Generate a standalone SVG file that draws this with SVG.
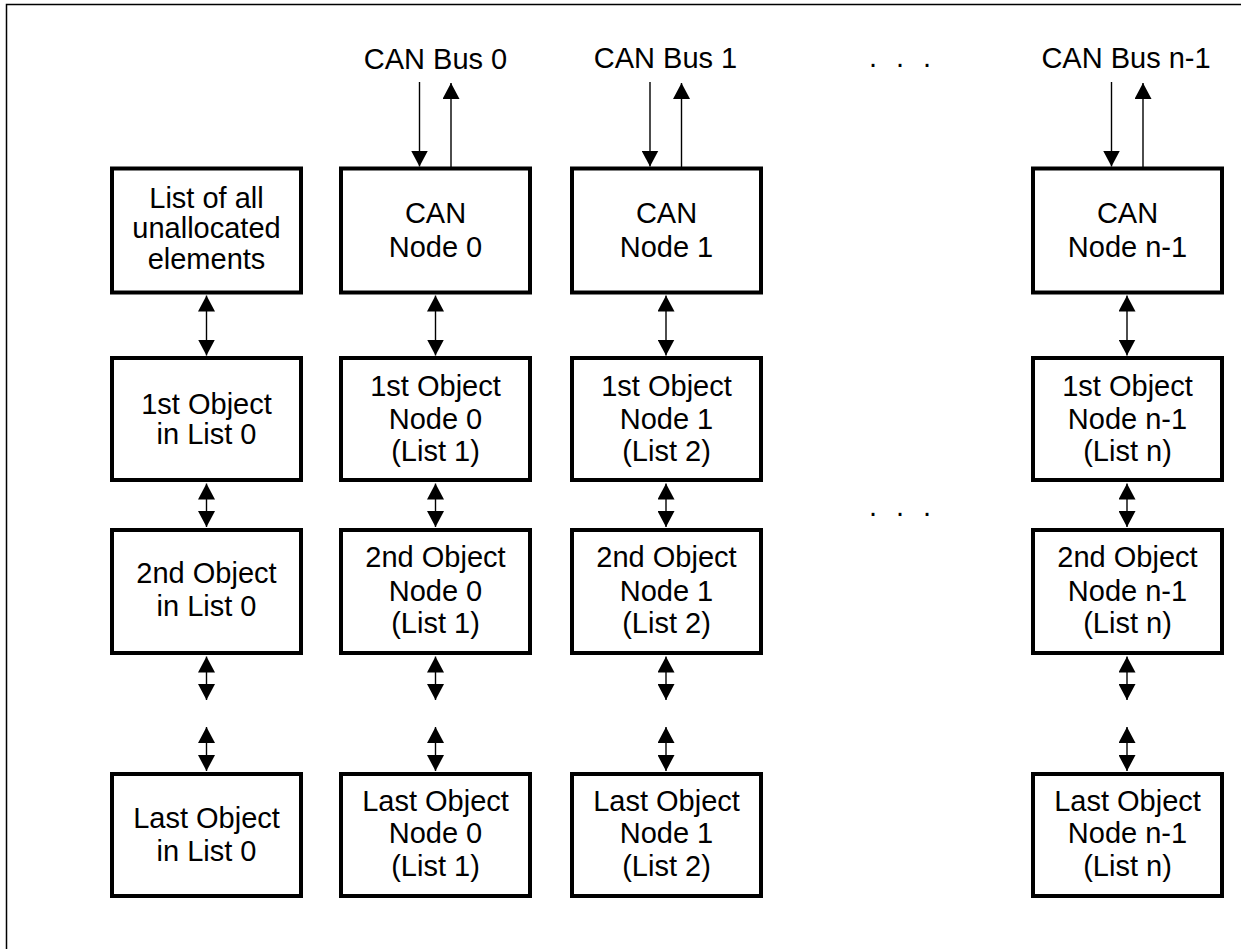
<svg xmlns="http://www.w3.org/2000/svg" width="1241" height="949" viewBox="0 0 1241 949">
<style>
.box{fill:#fff;stroke:#000;stroke-width:4}
.t{font-family:"Liberation Sans",Arial,sans-serif;font-size:29px;fill:#000;text-anchor:middle}
.c{stroke:#000;stroke-width:1.4;fill:none}
.bi{marker-start:url(#ah);marker-end:url(#ah)}
.one{marker-end:url(#ah)}
</style>
<defs>
<marker id="ah" markerUnits="userSpaceOnUse" markerWidth="16" markerHeight="17" refX="16" refY="8.5" orient="auto-start-reverse" viewBox="0 0 16 17">
<path d="M0,0 L16,8.5 L0,17 z" fill="#000"/>
</marker>
</defs>
<rect width="1241" height="949" fill="#fff"/>
<path d="M6.5,949 V4.5 H1241" fill="none" stroke="#000" stroke-width="1.5"/>

<g id="bus-labels">
<text class="t" x="435.5" y="69">CAN Bus 0</text>
<text class="t" x="665.5" y="68">CAN Bus 1</text>
<text class="t" x="1126" y="68">CAN Bus n-1</text>
<text class="t" style="text-anchor:start" x="869 896 923" y="67">...</text>
<text class="t" style="text-anchor:start" x="869 896 923" y="516">...</text>
</g>

<g id="connectors">
<line class="c one" x1="419.5" y1="82" x2="419.5" y2="166.5"/>
<line class="c one" x1="451" y1="167" x2="451" y2="83"/>
<line class="c one" x1="650" y1="82" x2="650" y2="166.5"/>
<line class="c one" x1="681.5" y1="167" x2="681.5" y2="83"/>
<line class="c one" x1="1111.5" y1="82" x2="1111.5" y2="166.5"/>
<line class="c one" x1="1143" y1="167" x2="1143" y2="83"/>

<line class="c bi" x1="206.5" y1="295.5" x2="206.5" y2="355.5"/>
<line class="c bi" x1="435.5" y1="295.5" x2="435.5" y2="355.5"/>
<line class="c bi" x1="666" y1="295.5" x2="666" y2="355.5"/>
<line class="c bi" x1="1127" y1="295.5" x2="1127" y2="355.5"/>

<line class="c bi" x1="206.5" y1="483.5" x2="206.5" y2="527"/>
<line class="c bi" x1="435.5" y1="483.5" x2="435.5" y2="527"/>
<line class="c bi" x1="666" y1="483.5" x2="666" y2="527"/>
<line class="c bi" x1="1127" y1="483.5" x2="1127" y2="527"/>

<line class="c bi" x1="206.5" y1="656.5" x2="206.5" y2="700"/>
<line class="c bi" x1="435.5" y1="656.5" x2="435.5" y2="700"/>
<line class="c bi" x1="666" y1="656.5" x2="666" y2="700"/>
<line class="c bi" x1="1127" y1="656.5" x2="1127" y2="700"/>

<line class="c bi" x1="206.5" y1="727" x2="206.5" y2="771"/>
<line class="c bi" x1="435.5" y1="727" x2="435.5" y2="771"/>
<line class="c bi" x1="666" y1="727" x2="666" y2="771"/>
<line class="c bi" x1="1127" y1="727" x2="1127" y2="771"/>
</g>

<g id="unallocated">
<rect class="box" x="112" y="168.5" width="189" height="124"/>
<text class="t" x="206.5" y="208">List of all</text>
<text class="t" x="206.5" y="238">unallocated</text>
<text class="t" x="206.5" y="269">elements</text>
</g>
<g id="obj1-list0">
<rect class="box" x="112" y="358" width="189" height="122"/>
<text class="t" x="206.5" y="414">1st Object</text>
<text class="t" x="206.5" y="444">in List 0</text>
</g>
<g id="obj2-list0">
<rect class="box" x="112" y="530" width="189" height="123"/>
<text class="t" x="206.5" y="583">2nd Object</text>
<text class="t" x="206.5" y="616">in List 0</text>
</g>
<g id="last-list0">
<rect class="box" x="112" y="774" width="189" height="122"/>
<text class="t" x="206.5" y="828">Last Object</text>
<text class="t" x="206.5" y="861">in List 0</text>
</g>

<g id="can-node0">
<rect class="box" x="341" y="168.5" width="189" height="124"/>
<text class="t" x="435.5" y="223">CAN</text>
<text class="t" x="435.5" y="257">Node 0</text>
</g>
<g id="obj1-node0">
<rect class="box" x="341" y="358" width="189" height="122"/>
<text class="t" x="435.5" y="396">1st Object</text>
<text class="t" x="435.5" y="428.5">Node 0</text>
<text class="t" x="435.5" y="460.5">(List 1)</text>
</g>
<g id="obj2-node0">
<rect class="box" x="341" y="530" width="189" height="123"/>
<text class="t" x="435.5" y="566.5">2nd Object</text>
<text class="t" x="435.5" y="600.5">Node 0</text>
<text class="t" x="435.5" y="632.5">(List 1)</text>
</g>
<g id="last-node0">
<rect class="box" x="341" y="774" width="189" height="122"/>
<text class="t" x="435.5" y="811">Last Object</text>
<text class="t" x="435.5" y="843">Node 0</text>
<text class="t" x="435.5" y="876">(List 1)</text>
</g>

<g id="can-node1">
<rect class="box" x="572" y="168.5" width="189" height="124"/>
<text class="t" x="666.5" y="223">CAN</text>
<text class="t" x="666.5" y="257">Node 1</text>
</g>
<g id="obj1-node1">
<rect class="box" x="572" y="358" width="189" height="122"/>
<text class="t" x="666.5" y="396">1st Object</text>
<text class="t" x="666.5" y="428.5">Node 1</text>
<text class="t" x="666.5" y="460.5">(List 2)</text>
</g>
<g id="obj2-node1">
<rect class="box" x="572" y="530" width="189" height="123"/>
<text class="t" x="666.5" y="566.5">2nd Object</text>
<text class="t" x="666.5" y="600.5">Node 1</text>
<text class="t" x="666.5" y="632.5">(List 2)</text>
</g>
<g id="last-node1">
<rect class="box" x="572" y="774" width="189" height="122"/>
<text class="t" x="666.5" y="811">Last Object</text>
<text class="t" x="666.5" y="843">Node 1</text>
<text class="t" x="666.5" y="876">(List 2)</text>
</g>

<g id="can-noden">
<rect class="box" x="1033" y="168.5" width="189" height="124"/>
<text class="t" x="1127.5" y="223">CAN</text>
<text class="t" x="1127.5" y="257">Node n-1</text>
</g>
<g id="obj1-noden">
<rect class="box" x="1033" y="358" width="189" height="122"/>
<text class="t" x="1127.5" y="396">1st Object</text>
<text class="t" x="1127.5" y="428.5">Node n-1</text>
<text class="t" x="1127.5" y="460.5">(List n)</text>
</g>
<g id="obj2-noden">
<rect class="box" x="1033" y="530" width="189" height="123"/>
<text class="t" x="1127.5" y="566.5">2nd Object</text>
<text class="t" x="1127.5" y="600.5">Node n-1</text>
<text class="t" x="1127.5" y="632.5">(List n)</text>
</g>
<g id="last-noden">
<rect class="box" x="1033" y="774" width="189" height="122"/>
<text class="t" x="1127.5" y="811">Last Object</text>
<text class="t" x="1127.5" y="843">Node n-1</text>
<text class="t" x="1127.5" y="876">(List n)</text>
</g>
</svg>
